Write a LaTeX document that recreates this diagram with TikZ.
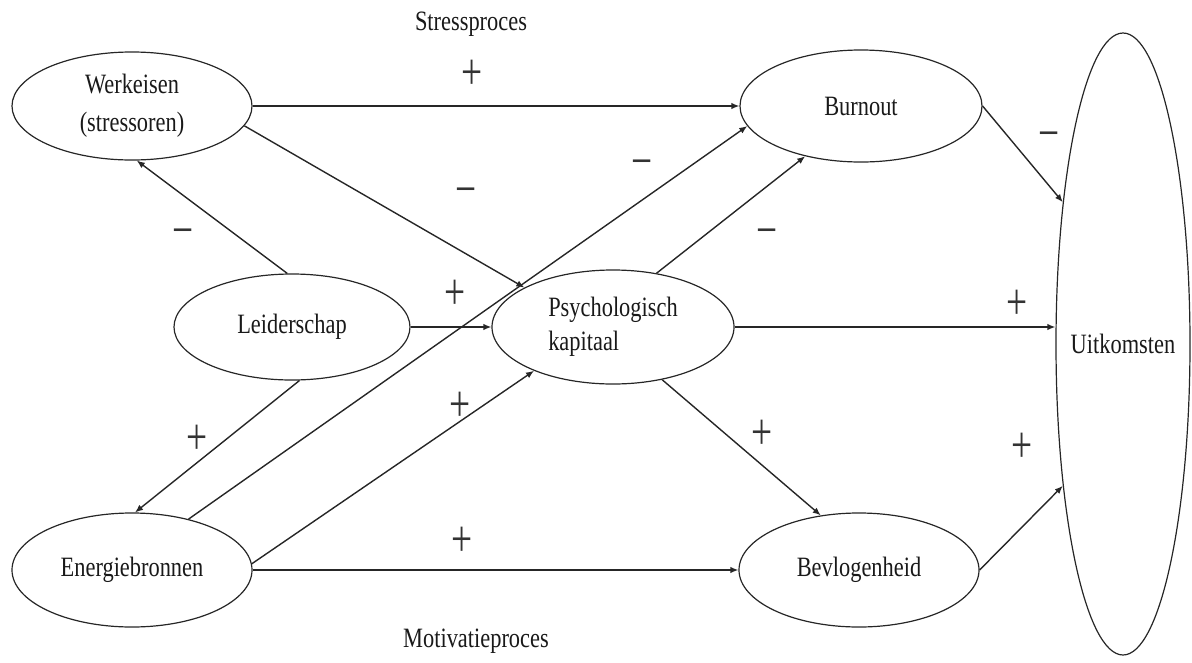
\documentclass[tikz,border=0pt]{standalone}
\usepackage{fontspec}
\setmainfont{Liberation Serif}[FakeStretch=0.8]
\newfontfamily\signfont{Liberation Serif}[FakeStretch=0.72]
\usetikzlibrary{shapes.geometric,arrows.meta}
\begin{document}
\begin{tikzpicture}[x=1pt,y=-1pt,
  oval/.style={ellipse, draw=black!85, line width=1.2pt, inner sep=0pt,
    font=\fontsize{28}{38}\selectfont, text=black!90},
  conn/.style={draw=black!85, line width=1.4pt, -{Latex[length=8pt,width=6.5pt]}},
  sign/.style={font=\signfont\fontsize{52}{52}\selectfont, text=black!80, inner sep=0pt},
  title/.style={font=\fontsize{28}{34}\selectfont, text=black!90, inner sep=0pt}]
\useasboundingbox (0,0) rectangle (1192,662);
% nodes
\node[oval, minimum width=240pt, minimum height=108pt, align=center] (W) at (132,106) {Werkeisen\\(stressoren)};
\node[oval, minimum width=242pt, minimum height=112pt] (B) at (861,106) {Burnout};
\node[oval, minimum width=236pt, minimum height=106pt] (L) at (292,327) {Leiderschap};
\node[oval, minimum width=242pt, minimum height=114pt, align=left, font=\fontsize{28}{34}\selectfont] (P) at (613,327) {Psychologisch\\kapitaal};
\node[oval, minimum width=240pt, minimum height=114pt] (E) at (132,570) {Energiebronnen};
\node[oval, minimum width=240pt, minimum height=114pt] (V) at (859,570) {Bevlogenheid};
\node[oval, minimum width=134pt, minimum height=622pt] (U) at (1123,344) {\makebox[0pt]{Uitkomsten}};
% titles
\node[title] (st) at (471,24) {Stressproces};
\node[title] (mt) at (476,641) {Motivatieproces};
% connectors
\draw[conn] (W.east) -- (B.west);
\draw[conn] (W.-10) -- (P.156);
\draw[conn] (L.95) -- (W.-85);
\draw[conn] (L.east) -- (P.west);
\draw[conn] (L.-82) -- (E.87);
\draw[conn] (E.42) -- (B.190);
\draw[conn] (E.3) -- (P.209);
\draw[conn] (E.east) -- (V.west);
\draw[conn] (P.51) -- (B.222);
\draw[conn] (P.-47) -- (V.125);
\draw[conn] (P.east) -- (U.west |- P.east);
\draw[conn] (B.east) -- (U.113);
\draw[conn] (V.east) -- (U.247.4);
% signs
\node[sign] (s1) at (472,75) {+};
\node[sign] (s2) at (466,197) {−};
\node[sign] (s3) at (183,238) {−};
\node[sign] (s4) at (455,295) {+};
\node[sign] (s5) at (197,440) {+};
\node[sign] (s6) at (642,169) {−};
\node[sign] (s7) at (460,407) {+};
\node[sign] (s8) at (462,542) {+};
\node[sign] (s9) at (767,238) {−};
\node[sign] (s10) at (762,435) {+};
\node[sign] (s11) at (1017,305) {+};
\node[sign] (s12) at (1049,141) {−};
\node[sign] (s13) at (1022,448) {+};
\end{tikzpicture}
\end{document}
